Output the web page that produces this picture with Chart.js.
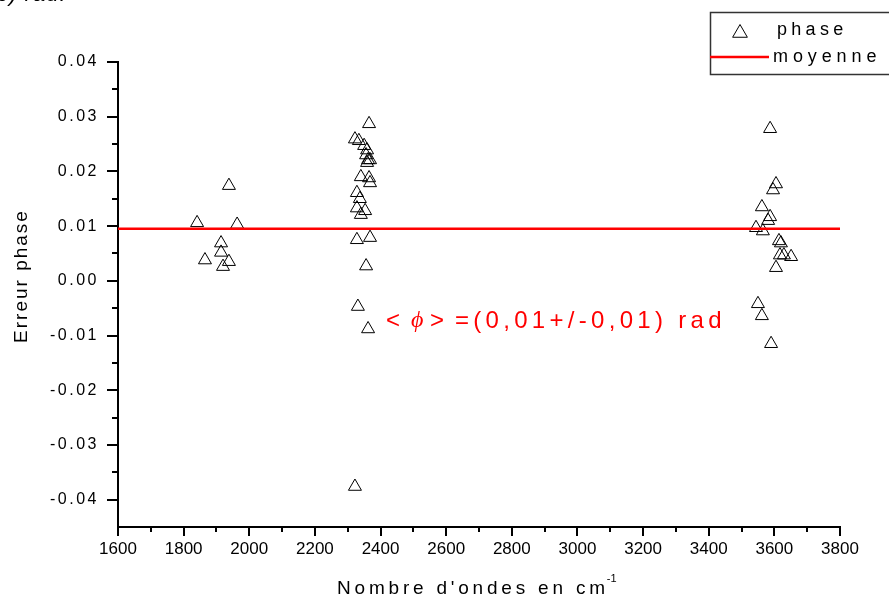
<!DOCTYPE html>
<html>
<head>
<meta charset="utf-8">
<script src="https://cdn.jsdelivr.net/npm/chart.js@4.4.1/dist/chart.umd.min.js"></script>
<style>
    html, body { margin: 0; padding: 0; background: #fff; }
    #wrap { width: 889px; height: 600px; position: relative; }
</style>
</head>
<body>
<div id="wrap"><canvas id="phaseChart" width="889" height="600"></canvas></div>
<script>
// Data
const wavenumbers = [
    1841, 1963, 1938, 1914, 1914, 1865, 1938, 1920,
    2365, 2322, 2334, 2350, 2359, 2356, 2362, 2359, 2368, 2340, 2365, 2368,
    2328, 2337, 2328, 2353, 2340, 2328, 2368, 2356, 2331, 2362, 2322,
    3587, 3605, 3596, 3562, 3587, 3581, 3544, 3565, 3614, 3620, 3617, 3629,
    3651, 3605, 3550, 3562, 3590
];
const phaseErrors = [
    0.0106, 0.0103, 0.0174, 0.0069, 0.0052, 0.0038, 0.0035, 0.0026,
    0.0287, 0.0259, 0.0256, 0.0247, 0.0239, 0.0230, 0.0221, 0.0216, 0.0221, 0.0190, 0.0188, 0.0179,
    0.0161, 0.0150, 0.0133, 0.0128, 0.0121, 0.0075, 0.0079, 0.0027, -0.0047, -0.0088, -0.0376,
    0.0278, 0.0177, 0.0166, 0.0135, 0.0117, 0.0110, 0.0097, 0.0091, 0.0073, 0.0069, 0.0047, 0.0047,
    0.0044, 0.0024, -0.0042, -0.0064, -0.0115
];
const meanPhase = 0.0095;
const xRange = [1600, 3800];
const yRange = [-0.045, 0.04];
const xTicks = [1600, 1800, 2000, 2200, 2400, 2600, 2800, 3000, 3200, 3400, 3600, 3800];
const yTicks = [-0.04, -0.03, -0.02, -0.01, 0.00, 0.01, 0.02, 0.03, 0.04];

const FONT = "'Liberation Sans', Arial, sans-serif";

function spacedText(ctx, text, x, y, font, color, spacing, align) {
    ctx.save();
    ctx.font = font;
    ctx.fillStyle = color;
    ctx.letterSpacing = spacing + 'px';
    ctx.textBaseline = 'middle';
    ctx.textAlign = align || 'left';
    ctx.fillText(text, x, y);
    const w = ctx.measureText(text).width;
    ctx.restore();
    return w;
}

// minor ticks, titles, legend and annotation
const decorPlugin = {
    id: 'decor',
    beforeDraw(chart) {
        chart.ctx.letterSpacing = '2.5px';
    },
    afterDatasetsDraw(chart) {
        chart.ctx.letterSpacing = '0px';
    },
    afterDraw(chart) {
        const ctx = chart.ctx;
        const xs = chart.scales.x, ys = chart.scales.y;
        const area = chart.chartArea;

        ctx.save();
        ctx.strokeStyle = '#000';
        ctx.lineWidth = 2;
        ctx.beginPath();
        for (let v = xRange[0] + 100; v < xRange[1]; v += 200) {
            const px = Math.round(xs.getPixelForValue(v));
            ctx.moveTo(px, area.bottom);
            ctx.lineTo(px, area.bottom + 5);
        }
        for (let v = -0.035; v < 0.04; v += 0.01) {
            const py = Math.round(ys.getPixelForValue(v));
            ctx.moveTo(area.left, py);
            ctx.lineTo(area.left - 6, py);
        }
        ctx.stroke();
        ctx.restore();

        // axis titles
        const xt = 'Nombre d\'ondes en cm';
        const w = spacedText(ctx, xt, 337, 589, '19px ' + FONT, '#000', 3.8, 'left');
        spacedText(ctx, '-1', 337 + w - 2, 579, '11px ' + FONT, '#000', 0, 'left');

        ctx.save();
        ctx.translate(22, 276);
        ctx.rotate(-Math.PI / 2);
        spacedText(ctx, 'Erreur phase', 0, 0, '19px ' + FONT, '#000', 2, 'center');
        ctx.restore();

        // mean annotation
        const red = '#ff0000';
        spacedText(ctx, '<', 386, 321, '24px ' + FONT, red, 0, 'left');
        spacedText(ctx, '\u03d5', 411, 321, 'italic 24px \'Liberation Serif\', serif', red, 0, 'left');
        spacedText(ctx, '>', 430, 321, '24px ' + FONT, red, 0, 'left');
        spacedText(ctx, '=(0,01+/-0,01) rad', 455, 321, '24px ' + FONT, red, 4.3, 'left');

        // legend box
        ctx.save();
        ctx.strokeStyle = '#333';
        ctx.lineWidth = 1.5;
        ctx.strokeRect(710.5, 12.5, 200, 62);
        ctx.fillStyle = 'rgba(0,0,0,0)';
        ctx.strokeStyle = '#000';
        ctx.lineWidth = 1;
        Chart.helpers.drawPoint(ctx, { pointStyle: 'triangle', radius: 8.5, borderWidth: 1, rotation: 0 }, 740, 33);
        ctx.strokeStyle = red;
        ctx.lineWidth = 2.5;
        ctx.beginPath();
        ctx.moveTo(710, 57);
        ctx.lineTo(769, 57);
        ctx.stroke();
        ctx.restore();
        spacedText(ctx, 'phase', 777, 30, '18px ' + FONT, '#000', 4.3, 'left');
        spacedText(ctx, 'moyenne', 773, 57, '18px ' + FONT, '#000', 4.9, 'left');

        // cut-off caption at the very top
        spacedText(ctx, '3) rad.', -4, -5, 'italic 22px ' + FONT, '#000', 1, 'left');
    }
};

const ctx = document.getElementById('phaseChart').getContext('2d');
new Chart(ctx, {
    data: {
        datasets: [
            {
                type: 'scatter',
                label: 'phase',
                data: wavenumbers.map((x, i) => ({ x, y: phaseErrors[i] })),
                pointStyle: 'triangle',
                pointRadius: 7.5,
                pointBorderColor: '#000',
                pointBackgroundColor: 'rgba(0,0,0,0)',
                pointBorderWidth: 1,
                order: 2
            },
            {
                type: 'line',
                label: 'moyenne',
                data: [{ x: xRange[0], y: meanPhase }, { x: xRange[1], y: meanPhase }],
                borderColor: '#ff0000',
                borderWidth: 2.5,
                pointRadius: 0,
                order: 1
            }
        ]
    },
    options: {
        responsive: false,
        animation: false,
        layout: { padding: { top: 62, right: 49, left: 0, bottom: 0 } },
        plugins: {
            legend: { display: false },
            tooltip: { enabled: false }
        },
        scales: {
            x: {
                type: 'linear',
                min: xRange[0],
                max: xRange[1],
                afterFit: s => { s.height = 73; },
                afterBuildTicks: s => { s.ticks = xTicks.map(v => ({ value: v })); },
                grid: { drawOnChartArea: false, drawTicks: true, tickLength: 9, tickColor: '#000', tickWidth: 2, lineWidth: 2 },
                border: { display: true, color: '#000', width: 2 },
                ticks: {
                    color: '#000',
                    font: { family: FONT, size: 17 },
                    padding: 3,
                    z: 1,
                    maxRotation: 0,
                    autoSkip: false,
                    callback: v => String(v)
                }
            },
            y: {
                type: 'linear',
                min: yRange[0],
                max: yRange[1],
                afterFit: s => { s.width = 118; },
                afterBuildTicks: s => { s.ticks = yTicks.map(v => ({ value: v })); },
                grid: { drawOnChartArea: false, drawTicks: true, tickLength: 11, tickColor: '#000', tickWidth: 2, lineWidth: 2 },
                border: { display: true, color: '#000', width: 2 },
                ticks: {
                    color: '#000',
                    font: { family: FONT, size: 16 },
                    padding: 8,
                    callback: v => (Math.abs(v) < 1e-9 ? 0 : v).toFixed(2)
                }
            }
        }
    },
    plugins: [decorPlugin]
});
</script>
</body>
</html>
